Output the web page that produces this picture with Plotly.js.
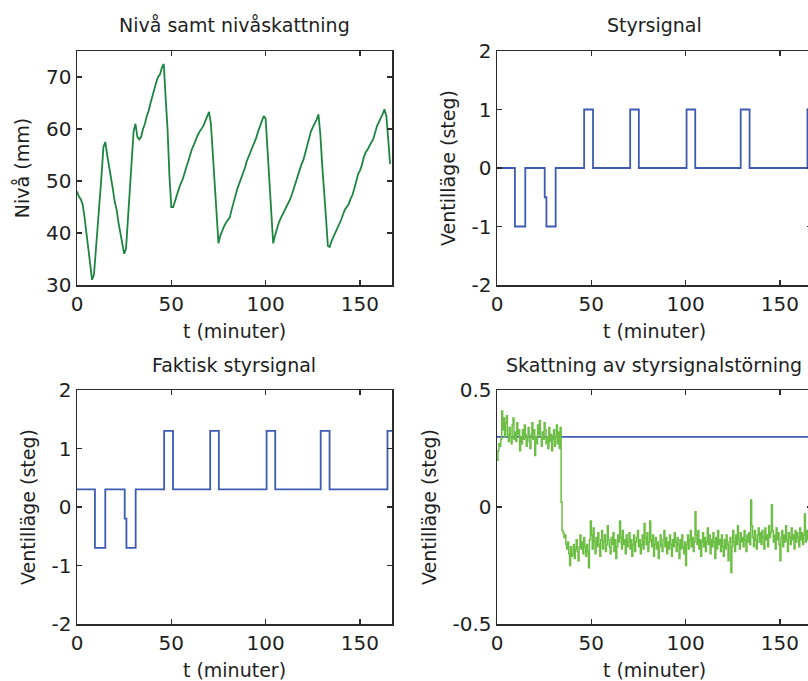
<!DOCTYPE html>
<html>
<head>
<meta charset="utf-8">
<script src="https://cdn.plot.ly/plotly-3.0.1.min.js"></script>
<style>
  html, body { margin: 0; padding: 0; overflow: hidden; background: #fff; }
  #chart { width: 816px; height: 681px; }
</style>
</head>
<body>
<div id="chart"></div>
<script>
// Tank level (mm), sampled once per minute from t = 0
const levelMm = [
  48, 47, 46.5, 45.5, 43, 40, 37.5, 34.5, 31, 32,
  36.5, 41, 45, 51, 56.5, 57.5, 55, 53, 51, 48.5,
  46, 44.5, 42, 40, 38, 36, 37, 43, 47, 54,
  59.5, 61, 58.5, 58, 58.5, 60, 61, 62.5, 63.5, 65,
  66.5, 67.5, 69, 70, 70.5, 71.8, 72.5, 66, 60, 51,
  45, 45, 46.3, 47.5, 48.5, 49.5, 50.3, 51.5, 52.8, 53.6,
  55, 56.2, 57, 58, 58.8, 59.5, 60, 60.6, 61.5, 62.5,
  63.3, 61, 55, 48.5, 42.5, 38, 39.5, 40.5, 41.3, 42,
  42.5, 43, 44.5, 46, 47, 48.5, 49.5, 50.5, 51.3, 52.5,
  53.8, 54.7, 55.5, 56.5, 57.5, 58.3, 59.5, 60.5, 61.5, 62.5,
  62, 55.5, 49, 44, 38, 39.5, 41, 42, 42.8, 43.5,
  44.3, 45, 45.7, 46.5, 47.5, 48.7, 49.8, 51, 52, 53.2,
  54, 55.5, 57, 58.5, 59.5, 60.3, 61, 61.8, 62.8, 59,
  53, 47, 43, 37.5, 37.3, 38.5, 39.3, 40, 40.8, 41.5,
  42.5, 43.5, 44.5, 45, 45.5, 46.5, 47.3, 48.5, 50, 51.3,
  52, 53, 54.5, 55.5, 56, 56.8, 57.4, 58, 59.5, 60.5,
  61.3, 62, 62.8, 63.8, 62.5, 58, 53.3
];
const levelStepMin = 1;

// Valve command (steps): switching times and held values
const ctrlT = [0, 9.5, 15, 25.3, 26.2, 31.1, 46.2, 50.9, 70.6, 75.2, 100.5, 105.1, 129.2, 133.9, 164.6, 167];
const ctrlU = [0, -1, 0, -0.5, -1, 0, 1, 0, 1, 0, 1, 0, 1, 0, 1, 1];

// Actual valve position (command plus the input disturbance)
const actualU = [0.3, -0.7, 0.3, -0.2, -0.7, 0.3, 1.3, 0.3, 1.3, 0.3, 1.3, 0.3, 1.3, 0.3, 1.3, 1.3];

// True input disturbance
const distT = [0, 167];
const distU = [0.3, 0.3];

// Estimated input disturbance, sampled every half minute from t = 0
const distEst = [
  0.20, 0.24, 0.27, 0.26, 0.29, 0.41, 0.33, 0.38, 0.30, 0.36, 0.39, 0.31, 0.28, 0.34, 0.30, 0.27, 0.35, 0.38, 0.29, 0.32,
  0.28, 0.36, 0.31, 0.33, 0.24, 0.30, 0.27, 0.33, 0.29, 0.35, 0.31, 0.26, 0.30, 0.34,
  0.28, 0.25, 0.31, 0.36, 0.29, 0.33, 0.22, 0.30, 0.27, 0.35, 0.31, 0.37, 0.30, 0.26, 0.32, 0.29, 0.36, 0.33, 0.27, 0.30,
  0.25, 0.34, 0.28, 0.31, 0.24, 0.29, 0.33, 0.26, 0.30, 0.35, 0.27, 0.32, 0.25, 0.34,
  0.02, -0.10, -0.11, -0.13, -0.12, -0.16, -0.18, -0.15, -0.20, -0.25, -0.17, -0.21,
  -0.20, -0.16, -0.22, -0.18, -0.14, -0.19, -0.23, -0.17, -0.12, -0.18, -0.15, -0.20, -0.13, -0.17, -0.21, -0.16, -0.19, -0.26, -0.14, -0.06,
  -0.12, -0.18, -0.09, -0.15, -0.20, -0.13, -0.17, -0.11, -0.16, -0.21, -0.14, -0.10, -0.18, -0.15, -0.12, -0.19, -0.16, -0.08, -0.14, -0.17,
  -0.20, -0.13, -0.16, -0.11, -0.19, -0.14, -0.22, -0.17, -0.12, -0.15, -0.06, -0.13, -0.18, -0.10, -0.16, -0.14, -0.20, -0.12, -0.17, -0.15,
  -0.11, -0.18, -0.14, -0.21, -0.16, -0.12, -0.19, -0.15, -0.13, -0.10, -0.17, -0.14, -0.20, -0.16, -0.12, -0.18, -0.07, -0.13, -0.16, -0.11,
  -0.19, -0.15, -0.06, -0.14, -0.17, -0.12, -0.21, -0.16, -0.13, -0.18, -0.15, -0.22, -0.17, -0.12, -0.16, -0.19, -0.14, -0.10, -0.17, -0.13,
  -0.20, -0.15, -0.18, -0.12, -0.16, -0.21, -0.14, -0.17, -0.11, -0.15, -0.19, -0.13, -0.16, -0.22, -0.14, -0.18, -0.12, -0.17, -0.20, -0.15,
  -0.25, -0.16, -0.12, -0.18, -0.14, -0.10, -0.17, -0.13, -0.19, -0.15, -0.02, -0.12, -0.16, -0.10, -0.18, -0.14, -0.21, -0.15, -0.11, -0.17,
  -0.13, -0.19, -0.15, -0.09, -0.16, -0.12, -0.20, -0.14, -0.17, -0.11, -0.15, -0.22, -0.13, -0.18, -0.10, -0.16, -0.14, -0.19, -0.12, -0.17,
  -0.21, -0.14, -0.18, -0.12, -0.16, -0.23, -0.15, -0.13, -0.28, -0.17, -0.10, -0.15, -0.19, -0.12, -0.16, -0.08, -0.14, -0.18, -0.11, -0.15,
  -0.13, -0.17, -0.10, -0.14, -0.19, -0.12, -0.15, -0.11, -0.16, 0.03, -0.08, -0.13, -0.17, -0.10, -0.14, -0.18, -0.12, -0.09, -0.15, -0.11,
  -0.16, -0.10, -0.13, -0.18, -0.09, -0.14, -0.12, -0.17, -0.08, -0.13, -0.11, 0.01, -0.10, -0.15, -0.12, -0.18, -0.09, -0.14, -0.11, -0.16,
  -0.23, -0.13, -0.10, -0.17, -0.12, -0.15, -0.08, -0.14, -0.19, -0.11, -0.13, -0.16, -0.09, -0.14, -0.12, -0.18, -0.10, -0.15, -0.11, -0.13,
  -0.17, -0.09, -0.14, -0.11, -0.16, -0.12, -0.03, -0.15, -0.10, -0.14, -0.12, -0.17, -0.09, -0.13
];
const distStepMin = 0.5;

// Axis ticks
const timeTicks = [0, 50, 100, 150];
const levelTicks = [30, 40, 50, 60, 70];
const stepTicks = [-2, -1, 0, 1, 2];
const stepTickText = ['-2', '-1', '0', '1', '2'];
const distTicks = [-0.5, 0, 0.5];
const distTickText = ['-0.5', '0', '0.5'];

// Panel titles and axis labels
const panelTitles = ['Nivå samt nivåskattning', 'Styrsignal', 'Faktisk styrsignal', 'Skattning av styrsignalstörning'];
const timeLabel = 't (minuter)';
const levelLabel = 'Nivå (mm)';
const valveLabel = 'Ventilläge (steg)';

const levelT = levelMm.map((_, i) => i * levelStepMin);
const distEstT = distEst.map((_, i) => i * distStepMin);

const BLUE = 'rgb(62,90,178)';
const DARKGREEN = 'rgb(28,134,64)';
const LIGHTGREEN = 'rgb(108,190,68)';
const FRAME = '#2b2b2b';
const TEXT = '#1e1e1e';
const FONT = 'DejaVu Sans, Liberation Sans, Arial, sans-serif';

const traces = [
  { x: levelT, y: levelMm, xaxis: 'x', yaxis: 'y', mode: 'lines',
    line: { color: DARKGREEN, width: 1.8 } },
  { x: ctrlT, y: ctrlU, xaxis: 'x2', yaxis: 'y2', mode: 'lines',
    line: { color: BLUE, width: 1.8, shape: 'hv' } },
  { x: ctrlT, y: actualU, xaxis: 'x3', yaxis: 'y3', mode: 'lines',
    line: { color: BLUE, width: 1.8, shape: 'hv' } },
  { x: distT, y: distU, xaxis: 'x4', yaxis: 'y4', mode: 'lines',
    line: { color: BLUE, width: 1.8 } },
  { x: distEstT, y: distEst, xaxis: 'x4', yaxis: 'y4', mode: 'lines',
    line: { color: LIGHTGREEN, width: 1.5, shape: 'hv' } }
];

const W = 816, H = 681;
const colL = [77 / W, 392 / W];
const colR = [497 / W, 812 / W];
const rowT = [1 - 285 / H, 1 - 51 / H];
const rowB = [1 - 624 / H, 1 - 390 / H];

function xAxis(domain, anchor) {
  return {
    domain: domain, anchor: anchor, range: [0, 167],
    tickvals: timeTicks, ticktext: timeTicks.map(String),
    ticks: 'inside', ticklen: 5, tickwidth: 1.2, tickcolor: FRAME,
    showline: true, linecolor: FRAME, linewidth: 1.5, mirror: 'ticks',
    showgrid: false, zeroline: false,
    tickfont: { family: FONT, size: 20, color: TEXT },
    title: { text: timeLabel, font: { family: FONT, size: 19, color: TEXT }, standoff: 10 }
  };
}
function yAxis(domain, anchor, range, vals, text, label) {
  return {
    domain: domain, anchor: anchor, range: range,
    tickvals: vals, ticktext: text,
    ticks: 'inside', ticklen: 5, tickwidth: 1.2, tickcolor: FRAME,
    showline: true, linecolor: FRAME, linewidth: 1.5, mirror: 'ticks',
    showgrid: false, zeroline: false,
    tickfont: { family: FONT, size: 20, color: TEXT },
    title: { text: label, font: { family: FONT, size: 19, color: TEXT }, standoff: 11 }
  };
}

const titleY = [1 - 25 / H, 1 - 365 / H];
const titleX = [(colL[0] + colL[1]) / 2, (colR[0] + colR[1]) / 2];
const annotations = panelTitles.map((txt, i) => ({
  text: txt, xref: 'paper', yref: 'paper',
  x: titleX[i % 2], y: titleY[Math.floor(i / 2)],
  xanchor: 'center', yanchor: 'middle', showarrow: false,
  font: { family: FONT, size: 19, color: TEXT }
}));

const layout = {
  width: W, height: H,
  margin: { l: 0, r: 0, t: 0, b: 0 },
  paper_bgcolor: '#fff', plot_bgcolor: '#fff',
  showlegend: false,
  xaxis: xAxis(colL, 'y'),
  yaxis: yAxis(rowT, 'x', [30, 75], levelTicks, levelTicks.map(String), levelLabel),
  xaxis2: xAxis(colR, 'y2'),
  yaxis2: yAxis(rowT, 'x2', [-2, 2], stepTicks, stepTickText, valveLabel),
  xaxis3: xAxis(colL, 'y3'),
  yaxis3: yAxis(rowB, 'x3', [-2, 2], stepTicks, stepTickText, valveLabel),
  xaxis4: xAxis(colR, 'y4'),
  yaxis4: yAxis(rowB, 'x4', [-0.5, 0.5], distTicks, distTickText, valveLabel),
  annotations: annotations
};

Plotly.newPlot('chart', traces, layout, { displayModeBar: false, staticPlot: true });
</script>
</body>
</html>
